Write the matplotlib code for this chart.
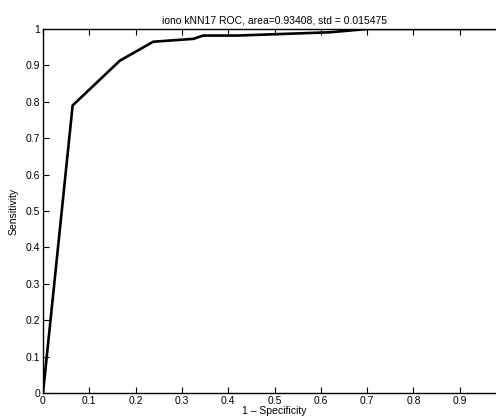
import matplotlib
matplotlib.use('Agg')
import matplotlib.pyplot as plt
import numpy as np

# ROC points
fpr = [0.0, 0.064, 0.166, 0.238, 0.325, 0.346, 0.42, 0.62, 0.70, 1.0]
tpr = [0.0, 0.790, 0.913, 0.965, 0.973, 0.982, 0.982, 0.991, 1.0, 1.0]

x_ticks = [0, 0.1, 0.2, 0.3, 0.4, 0.5, 0.6, 0.7, 0.8, 0.9, 1.0]
y_ticks = [0, 0.1, 0.2, 0.3, 0.4, 0.5, 0.6, 0.7, 0.8, 0.9, 1.0]
tick_labels = ['0', '0.1', '0.2', '0.3', '0.4', '0.5', '0.6', '0.7', '0.8', '0.9', '1']

plt.rcParams['font.family'] = ['Liberation Sans', 'DejaVu Sans']
plt.rcParams['font.size'] = 7.5

fig = plt.figure(figsize=(4.96, 4.19), dpi=100)
# the reference image is cropped on the right, so the axes run past the edge
ax = fig.add_axes([43 / 496, 26 / 419, 463 / 496, 364 / 419])

ax.plot(fpr, tpr, 'k-', lw=1.9)

ax.set_xlim(0, 1)
ax.set_ylim(0, 1)
ax.set_xticks(x_ticks)
# the "1" on the x axis falls outside the cropped picture
ax.set_xticklabels(tick_labels[:-1] + [''])
ax.set_yticks(y_ticks)
ax.set_yticklabels(tick_labels)
ax.tick_params(direction='in', length=4, width=0.8, top=True, right=True,
               labelsize=7.5, pad=2)
for sp in ax.spines.values():
    sp.set_linewidth(1.0)

ax.set_xlabel('1 \u2013 Specificity', fontsize=7.5, labelpad=0)
ax.set_ylabel('Sensitivity', fontsize=7.5, labelpad=5)
ax.set_title('iono kNN17 ROC, area=0.93408, std = 0.015475', fontsize=7.5, pad=4)

fig.savefig('out.png', dpi=100)
